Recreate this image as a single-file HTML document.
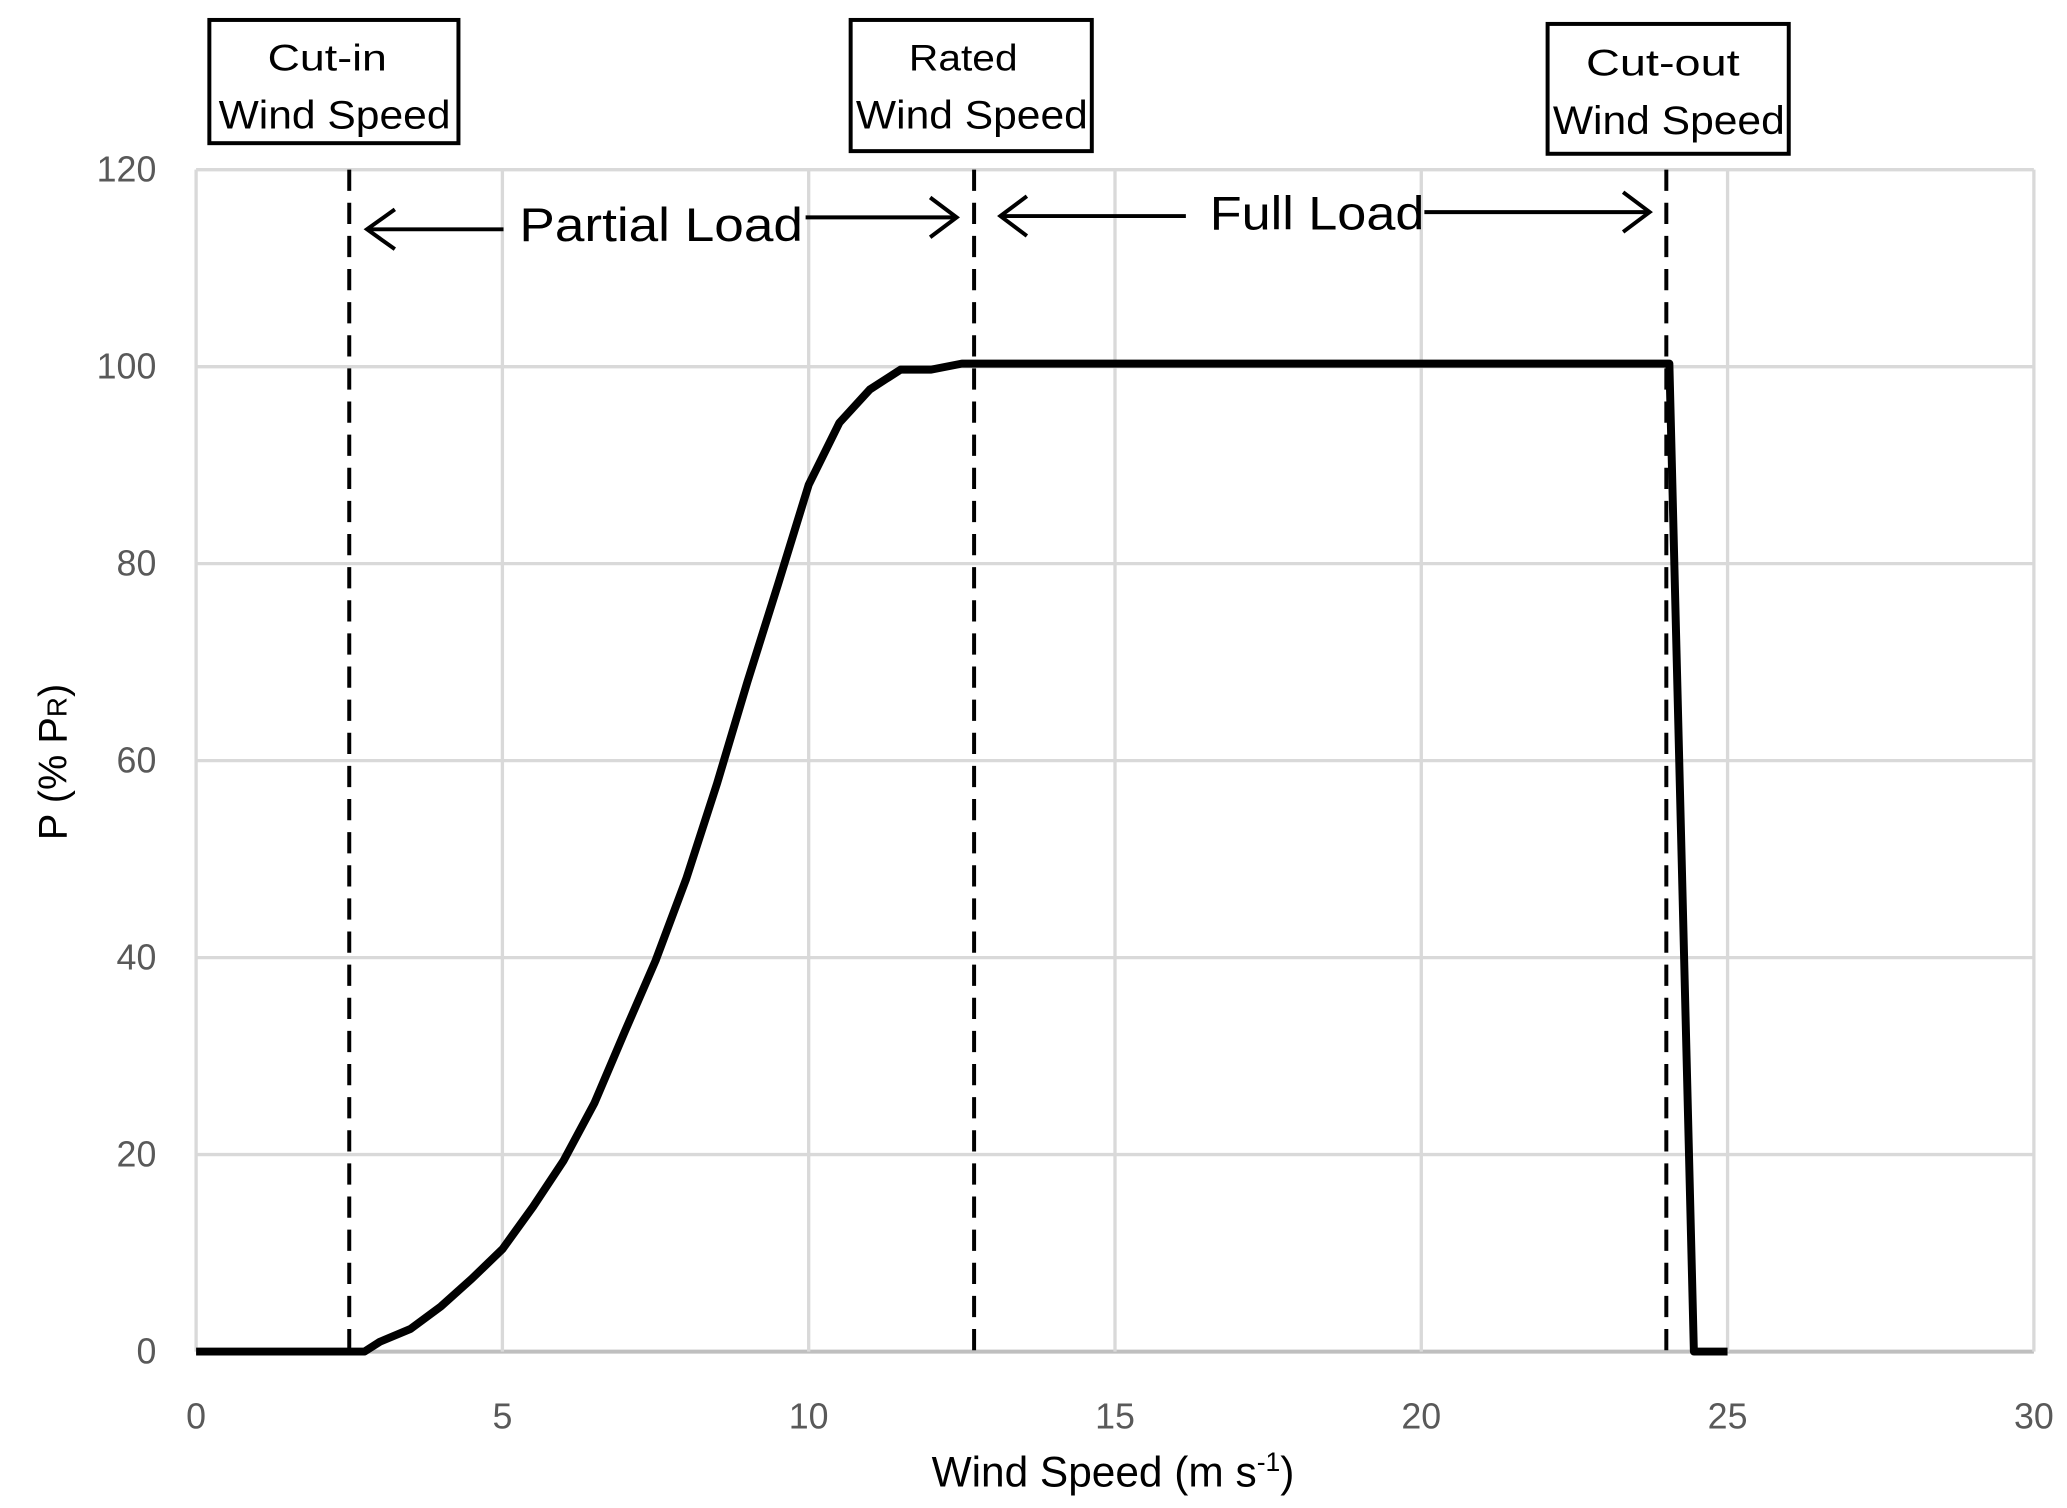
<!DOCTYPE html>
<html><head><meta charset="utf-8"><style>
html,body{margin:0;padding:0;background:#fff;}
svg{display:block;}
text{font-family:"Liberation Sans",sans-serif;}
</style></head><body>
<svg id="chart" width="2067" height="1508" viewBox="0 0 1560 1138" xmlns="http://www.w3.org/2000/svg">
<g id="grid"></g>
<g id="ann"></g>
<g id="series"></g>
<g id="labels"></g>
</svg>
<script>
const windSpeed = [0, 2.5, 2.75, 3, 3.5, 4, 4.5, 5, 5.5, 6, 6.5, 7, 7.5, 8, 8.5, 9, 9.5, 10, 10.5, 11, 11.5, 12, 12.5, 24.05, 24.45, 25];
const powerPct  = [0, 0, 0, 1, 2.3, 4.6, 7.4, 10.4, 14.7, 19.4, 25.2, 32.5, 39.7, 48, 57.6, 68, 77.9, 88, 94.3, 97.7, 99.7, 99.7, 100.3, 100.3, 0, 0];
const xTicks = [0, 5, 10, 15, 20, 25, 30];
const yTicks = [0, 20, 40, 60, 80, 100, 120];
const markerSpeeds = [2.5, 12.7, 24.0];
const markerNames = ['cut-in', 'rated', 'cut-out'];

const NS = 'http://www.w3.org/2000/svg';
const X0 = 148, X1 = 1535, Y0 = 1020, Y1 = 128;
const sx = v => X0 + (X1 - X0) * v / 30;
const sy = v => Y0 - (Y0 - Y1) * v / 120;
function mk(tag, attrs, parent, txt) {
  const e = document.createElementNS(NS, tag);
  for (const k in attrs) e.setAttribute(k, attrs[k]);
  if (txt !== undefined) e.textContent = txt;
  parent.appendChild(e);
  return e;
}
const grid = document.getElementById('grid');
const ann = document.getElementById('ann');
const series = document.getElementById('series');
const labels = document.getElementById('labels');

yTicks.forEach(t => {
  const l = mk('line', {x1: X0, x2: X1, y1: sy(t), y2: sy(t), stroke: t === 0 ? '#bfbfbf' : '#d9d9d9', 'stroke-width': t === 0 ? 3 : 2.5}, grid);
  
  
  const tx = mk('text', {x: 118, y: sy(t) + 9, 'text-anchor': 'end', 'font-size': 27, fill: '#595959'}, labels, String(t));
  
  
});
xTicks.forEach(t => {
  const l = mk('line', {x1: sx(t), x2: sx(t), y1: Y1, y2: Y0, stroke: '#d9d9d9', 'stroke-width': 2.5}, grid);
  
  
  const tx = mk('text', {x: sx(t), y: 1078, 'text-anchor': 'middle', 'font-size': 27, fill: '#595959'}, labels, String(t));
  
  
});

markerSpeeds.forEach((s, i) => {
  const l = mk('line', {x1: sx(s), x2: sx(s), y1: Y1, y2: Y0, stroke: '#000', 'stroke-width': 3, 'stroke-dasharray': '16 9'}, ann);
  
  
});

let d = '';
windSpeed.forEach((v, i) => { d += (i ? 'L' : 'M') + sx(v).toFixed(1) + ' ' + sy(powerPct[i]).toFixed(1); });
const path = mk('path', {d: d, fill: 'none', stroke: '#000', 'stroke-width': 6, 'stroke-linejoin': 'round'}, series);


</script>
<svg style="position:absolute;left:0;top:0" width="2067" height="1508" viewBox="0 0 1560 1138" xmlns="http://www.w3.org/2000/svg">
  <g>
    <rect x="158" y="15" width="188" height="93" fill="#fff" stroke="#000" stroke-width="3"/>
    <text x="202" y="53" font-size="28" textLength="90" lengthAdjust="spacingAndGlyphs">Cut-in</text>
    <text x="165" y="97" font-size="30" textLength="175" lengthAdjust="spacingAndGlyphs">Wind Speed</text>
  </g>
  <g>
    <rect x="642" y="15" width="182" height="99" fill="#fff" stroke="#000" stroke-width="3"/>
    <text x="686" y="53" font-size="28" textLength="82" lengthAdjust="spacingAndGlyphs">Rated</text>
    <text x="646" y="97" font-size="30" textLength="175" lengthAdjust="spacingAndGlyphs">Wind Speed</text>
  </g>
  <g>
    <rect x="1168" y="18" width="182" height="98" fill="#fff" stroke="#000" stroke-width="3"/>
    <text x="1197" y="57" font-size="28" textLength="116" lengthAdjust="spacingAndGlyphs">Cut-out</text>
    <text x="1172" y="101" font-size="30" textLength="175" lengthAdjust="spacingAndGlyphs">Wind Speed</text>
  </g>
  <g stroke="#000" stroke-width="3" fill="none">
    <line x1="277" y1="173" x2="380" y2="173"/>
    <polyline points="298,158 277,173 298,188"/>
    <line x1="608" y1="164" x2="722" y2="164"/>
    <polyline points="702,149 722,164 702,179"/>
  </g>
  <text x="392" y="182" font-size="36" textLength="214" lengthAdjust="spacingAndGlyphs">Partial Load</text>
  <g stroke="#000" stroke-width="3" fill="none">
    <line x1="755" y1="163" x2="895" y2="163"/>
    <polyline points="775,148 755,163 775,178"/>
    <line x1="1075" y1="160" x2="1245" y2="160"/>
    <polyline points="1225,145 1245,160 1225,175"/>
  </g>
  <text x="913" y="173" font-size="36" textLength="162" lengthAdjust="spacingAndGlyphs">Full Load</text>
  <text transform="translate(50,575) rotate(-90)" text-anchor="middle" font-size="30">P (% P<tspan font-size="21">R</tspan>)</text>
  <text x="840" y="1122" text-anchor="middle" font-size="32">Wind Speed (m s<tspan font-size="20" dy="-12">-1</tspan><tspan dy="12">)</tspan></text>
</svg>
</body></html>
